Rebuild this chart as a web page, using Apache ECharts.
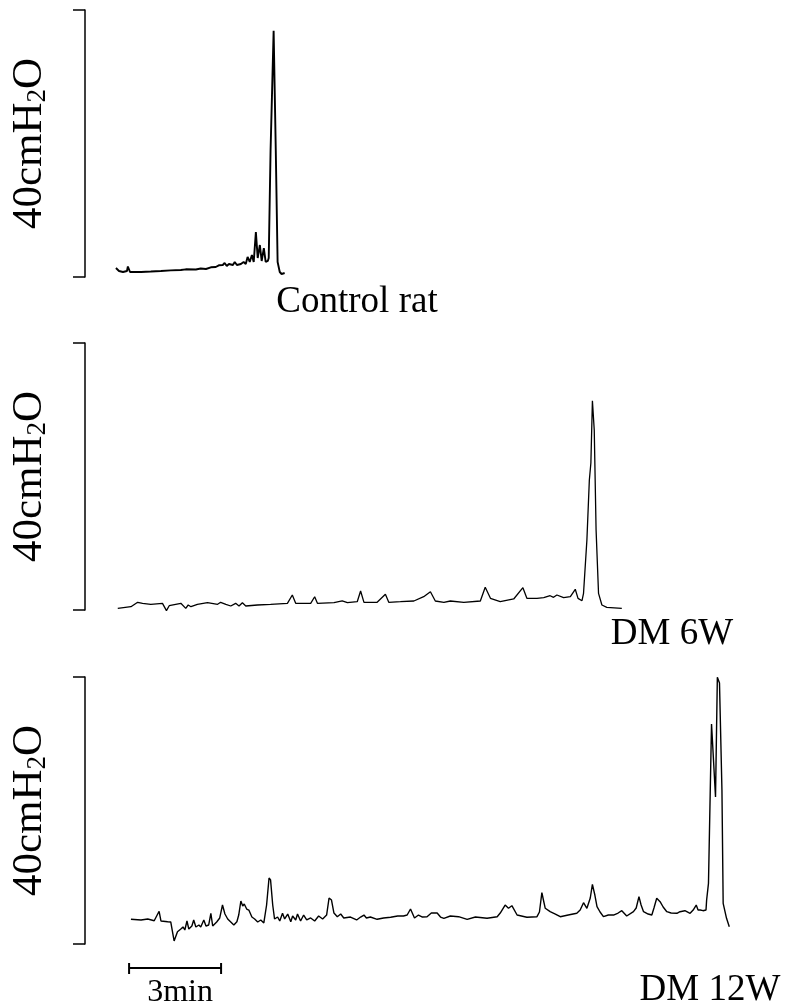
<!doctype html>
<html lang="en">
  <head>
    <meta charset="UTF-8" />
    <title>Cystometry traces</title>
    <script src="https://cdn.jsdelivr.net/npm/echarts@6/dist/echarts.min.js"></script>
    <style>
      html, body { margin: 0; padding: 0; background: #fff; }
      #chart { width: 808px; height: 1008px; }
    </style>
  </head>
  <body>
    <div id="chart"></div>
    <script>
      ///////////////////////////////////////////////////
      // Data (time in min, pressure in cmH2O)
      ///////////////////////////////////////////////////
      var panelLabels = ['Control rat', 'DM 6W', 'DM 12W'];
      var scaleLabel = '3min';
      var scaleBarMinutes = [1.47, 4.47];

      var ctrlTime = [1.01, 1.11, 1.24, 1.37, 1.40, 1.47, 1.83, 2.15, 2.48, 2.80, 3.13, 3.29, 3.62, 3.78, 3.95,
        4.11, 4.27, 4.37, 4.50, 4.56, 4.63, 4.70, 4.83,
        4.89, 4.96, 5.09, 5.18, 5.25, 5.31, 5.38, 5.45, 5.51, 5.58, 5.64, 5.71, 5.77, 5.84, 5.90, 5.97, 6.00,
        6.06, 6.16, 6.23, 6.29, 6.36, 6.42, 6.52];
      var ctrlPressure = [1.35, 0.90, 0.75, 0.90, 1.57, 0.75, 0.75, 0.82, 0.90, 1.00, 1.05, 1.15, 1.12, 1.27, 1.20,
        1.45, 1.50, 1.75, 1.80, 2.10, 1.65, 1.95, 1.80,
        2.25, 1.80, 1.95, 2.25, 1.95, 3.00, 2.25, 3.30, 2.25, 6.74, 2.85, 4.79, 2.40, 4.34, 2.25, 2.40, 2.85,
        19.0, 36.9, 19.0, 2.25, 0.75, 0.45, 0.60];

      var dm6Time = [1.07, 1.50, 1.72, 1.88, 2.15, 2.53, 2.66, 2.75, 3.13, 3.19, 3.29, 3.37, 3.46, 3.67, 4.00,
        4.33, 4.43, 4.60, 4.76, 4.92, 5.03, 5.14, 5.25, 5.63, 6.06, 6.61, 6.77, 6.88, 7.37, 7.50, 7.59, 8.13,
        8.40, 8.57, 8.89, 9.00, 9.11, 9.54, 9.81, 9.92, 10.30, 10.74, 11.06, 11.28, 11.44, 11.72, 11.93, 12.37,
        12.91, 13.07, 13.24, 13.56, 14.00, 14.30, 14.43, 14.76, 14.98, 15.19, 15.30, 15.41, 15.63, 15.85, 16.01,
        16.10, 16.23, 16.28, 16.39, 16.47, 16.52, 16.57, 16.63, 16.69, 16.77, 16.88, 17.04, 17.53];
      var dm6Pressure = [0.25, 0.49, 1.15, 1.00, 0.85, 1.00, -0.10, 0.64, 1.00, 1.09, 0.25, 0.75, 0.49, 0.85, 1.09,
        0.85, 1.15, 0.85, 0.60, 1.00, 0.60, 1.09, 0.60, 0.75, 0.85, 1.00, 2.25, 1.00, 1.00, 1.99, 1.00, 1.09,
        1.35, 1.09, 1.24, 2.85, 1.15, 1.15, 2.35, 1.15, 1.24, 1.35, 1.99, 2.74, 1.35, 1.15, 1.35, 1.15,
        1.35, 3.40, 1.75, 1.24, 1.65, 3.34, 1.75, 1.75, 1.84, 2.14, 1.90, 2.25, 1.84, 1.99, 3.10,
        1.75, 1.39, 2.50, 10.49, 19.48, 22.02, 31.36, 26.97, 11.99, 2.50, 0.75, 0.40, 0.25];

      var dm12Time = [1.50, 1.83, 2.05, 2.26, 2.42, 2.48, 2.53, 2.70, 2.80, 2.91, 3.02, 3.13, 3.20, 3.26, 3.33,
        3.39, 3.49, 3.55, 3.62, 3.72, 3.78, 3.88, 3.95, 4.04, 4.11, 4.17, 4.30, 4.40, 4.49, 4.57, 4.66, 4.76,
        4.86, 4.96, 5.02, 5.09, 5.15, 5.20, 5.28, 5.35, 5.45, 5.54, 5.64, 5.74, 5.84, 5.93, 6.01, 6.06, 6.13,
        6.19, 6.29, 6.36, 6.45, 6.52, 6.62, 6.72, 6.78, 6.88, 6.94, 7.04, 7.14, 7.24, 7.37, 7.50, 7.63, 7.76,
        7.89, 7.97, 8.05, 8.13, 8.24, 8.35, 8.45, 8.67, 8.87, 9.00, 9.11, 9.19, 9.32, 9.54, 9.75, 9.98, 10.21,
        10.40, 10.52, 10.63, 10.68, 10.76, 10.89, 11.02, 11.17, 11.31, 11.50, 11.61, 11.72, 11.93, 12.20,
        12.48, 12.75, 13.13, 13.46, 13.56, 13.72, 13.83, 13.94, 14.11, 14.43, 14.76, 14.84, 14.92, 14.97,
        15.03, 15.19, 15.36, 15.52, 15.78, 16.06, 16.17, 16.28, 16.39, 16.50, 16.57, 16.65, 16.72, 16.82,
        16.93, 17.09, 17.26, 17.41, 17.53, 17.69, 17.91, 18.00, 18.09, 18.16, 18.24, 18.39, 18.51, 18.58,
        18.67, 18.78, 18.88, 19.00, 19.14, 19.33, 19.43, 19.59, 19.76, 19.86, 19.96, 20.02, 20.09, 20.18,
        20.28, 20.30, 20.36, 20.46, 20.59, 20.65, 20.72, 20.80, 20.84, 20.95, 21.04];
      var dm12Pressure = [3.70, 3.60, 3.75, 3.49, 4.90, 3.45, 3.19, 3.34, 3.30, 0.45, 1.84, 2.25, 2.55, 2.10, 3.45,
        2.25, 2.70, 3.60, 2.55, 2.85, 2.55, 3.60, 2.70, 2.85, 4.60, 2.70, 3.30, 3.90, 5.84, 4.49, 3.75, 3.30,
        2.85, 3.34, 4.34, 6.44, 5.69, 5.99, 5.24, 5.09, 4.04, 3.75, 3.30, 3.60, 3.15, 5.84, 9.89, 9.59, 5.84,
        3.75, 4.04, 3.45, 4.60, 3.75, 4.49, 3.34, 4.19, 3.60, 4.49, 3.45, 4.34, 3.60, 3.90, 3.45, 4.19, 3.75,
        4.34, 6.89, 6.59, 4.64, 4.09, 4.49, 3.90, 4.04, 3.60, 4.04, 4.34, 3.90, 4.04, 3.70, 3.90, 4.00, 4.19,
        4.19, 4.34, 5.24, 5.35, 3.90, 4.34, 4.04, 4.09, 4.64, 4.64, 4.04, 3.85, 4.19, 4.09,
        3.70, 4.04, 3.85, 4.09, 4.64, 5.84, 5.35, 5.74, 4.34, 4.00, 4.09, 4.79, 7.69, 6.59,
        5.35, 4.84, 4.49, 4.09, 4.34, 4.60, 5.09, 6.19, 5.35, 6.89, 8.94, 7.34, 5.59, 4.79,
        4.09, 4.34, 4.34, 4.64, 4.99, 4.19, 4.84, 5.39, 7.09, 5.84, 4.84, 4.49, 4.34, 5.39,
        6.85, 6.34, 5.54, 4.84, 4.64, 4.60, 4.84, 4.99, 4.60, 5.09, 5.84, 5.09, 5.09, 4.99,
        5.09, 6.59, 9.09, 32.96, 22.02, 39.96, 39.10, 23.07, 6.10, 3.85, 2.59];

      ///////////////////////////////////////////////////
      // Chart
      ///////////////////////////////////////////////////
      function zip(xs, ys) {
        return xs.map(function (x, i) { return [x, ys[i]]; });
      }

      var serif = '"Liberation Serif", "Times New Roman", serif';
      var panelTops = [10, 343, 677];
      var traces = [zip(ctrlTime, ctrlPressure), zip(dm6Time, dm6Pressure), zip(dm12Time, dm12Pressure)];
      var traceWidths = [1.9, 1.3, 1.4];

      var grids = [], xAxes = [], yAxes = [], series = [];
      panelTops.forEach(function (top, i) {
        grids.push({ left: 84, top: top, width: 690, height: 267 });
        xAxes.push({ gridIndex: i, type: 'value', min: 0, max: 22.5, show: false });
        yAxes.push({
          gridIndex: i, type: 'value', min: 0, max: 40, interval: 40,
          axisLine: { show: true, lineStyle: { color: '#000', width: 1.5 } },
          axisTick: { show: true, inside: false, length: 12, lineStyle: { color: '#000', width: 1.5 } },
          axisLabel: { show: false },
          splitLine: { show: false },
          name: '{a|40cmH}{s|2}{a|O}',
          nameLocation: 'middle',
          nameGap: 34,
          nameTextStyle: {
            color: '#000',
            rich: {
              a: { fontFamily: serif, fontSize: 43, color: '#000' },
              s: { fontFamily: serif, fontSize: 27, color: '#000', padding: [16, 0, 0, 0] }
            }
          }
        });
        series.push({
          type: 'line', xAxisIndex: i, yAxisIndex: i, data: traces[i],
          showSymbol: false, clip: false,
          lineStyle: { color: '#000', width: traceWidths[i] }
        });
      });

      // scale bar grid
      grids.push({ left: 84, top: 958, width: 690, height: 20 });
      xAxes.push({ gridIndex: 3, type: 'value', min: 0, max: 22.5, show: false });
      yAxes.push({ gridIndex: 3, type: 'value', min: 0, max: 1, show: false });
      series.push({
        type: 'custom', xAxisIndex: 3, yAxisIndex: 3,
        data: [scaleBarMinutes],
        renderItem: function (params, api) {
          var p0 = api.coord([api.value(0), 0.5]);
          var p1 = api.coord([api.value(1), 0.5]);
          var st = { stroke: '#000', lineWidth: 2 };
          return {
            type: 'group',
            children: [
              { type: 'line', shape: { x1: p0[0], y1: p0[1], x2: p1[0], y2: p1[1] }, style: st },
              { type: 'line', shape: { x1: p0[0], y1: p0[1] - 5, x2: p0[0], y2: p0[1] + 6 }, style: st },
              { type: 'line', shape: { x1: p1[0], y1: p1[1] - 5, x2: p1[0], y2: p1[1] + 6 }, style: st },
              { type: 'text', style: { x: (p0[0] + p1[0]) / 2 + 5, y: p0[1] + 25, text: scaleLabel,
                font: '32px ' + serif, fill: '#000', align: 'center', verticalAlign: 'middle' } }
            ]
          };
        }
      });

      var chart = echarts.init(document.getElementById('chart'), null, { renderer: 'canvas' });
      chart.setOption({
        animation: false,
        backgroundColor: '#fff',
        grid: grids,
        xAxis: xAxes,
        yAxis: yAxes,
        series: series,
        graphic: [
          { type: 'text', x: 357, y: 302, style: { text: panelLabels[0], font: '37px ' + serif, fill: '#000', align: 'center', verticalAlign: 'middle' } },
          { type: 'text', x: 672, y: 634, style: { text: panelLabels[1], font: '37px ' + serif, fill: '#000', align: 'center', verticalAlign: 'middle' } },
          { type: 'text', x: 710, y: 990, style: { text: panelLabels[2], font: '37px ' + serif, fill: '#000', align: 'center', verticalAlign: 'middle' } }
        ]
      });
    </script>
  </body>
</html>
